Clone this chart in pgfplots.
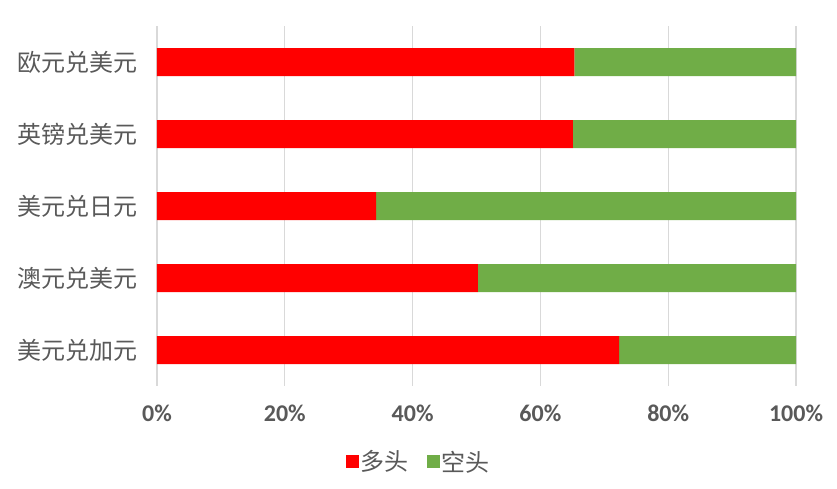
\documentclass[border=0pt]{standalone}
\usepackage{fontspec}
\setmainfont{Carlito}
\newfontfamily\cjk{Noto Sans CJK SC}
\usepackage{pgfplots}
\pgfplotsset{compat=1.18}
\definecolor{longc}{RGB}{255,0,0}
\definecolor{shortc}{RGB}{112,173,71}
\definecolor{txt}{RGB}{89,89,89}
\definecolor{gridc}{RGB}{217,217,217}

\begin{document}
\begin{tikzpicture}
\path (-157pt,-102pt) rectangle (680pt,386pt);
\begin{axis}[
  at={(0pt,0pt)}, anchor=south west,
  scale only axis, width=639pt, height=360pt,
  xbar stacked, bar width=28pt,
  xmin=0, xmax=100, ymin=-0.5, ymax=4.5, y dir=reverse,
  xtick={0,20,...,100},
  xticklabel={\pgfmathprintnumber{\tick}\%},
  /pgf/number format/assume math mode=true,
  ytick={0,...,4},
  yticklabels={欧元兑美元,英镑兑美元,美元兑日元,澳元兑美元,美元兑加元},
  xmajorgrids, grid style={gridc, line width=1.2pt},
  axis line style={draw=none}, tick style={draw=none},
  x tick label style={font=\fontsize{24}{28}\selectfont\bfseries, text=txt, yshift=-15pt},
  y tick label style={font=\fontsize{24}{28}\cjk, text=txt, xshift=-16pt},
  legend style={at={(0.41,-0.21)}, anchor=center, legend columns=2, draw=none,
    font=\fontsize{24}{28}\cjk, text=txt, /tikz/every even column/.append style={column sep=16pt}},
  legend image code/.code={\fill[#1,draw=none] (0pt,-6pt) rectangle (13pt,7pt);},
]
\addplot[fill=longc, draw=none] coordinates {(65.3,0) (65.1,1) (34.3,2) (50.2,3) (72.3,4)};
\addplot[fill=shortc, draw=none] coordinates {(34.7,0) (34.9,1) (65.7,2) (49.8,3) (27.7,4)};
\legend{多头,空头}
\end{axis}
\end{tikzpicture}
\end{document}
